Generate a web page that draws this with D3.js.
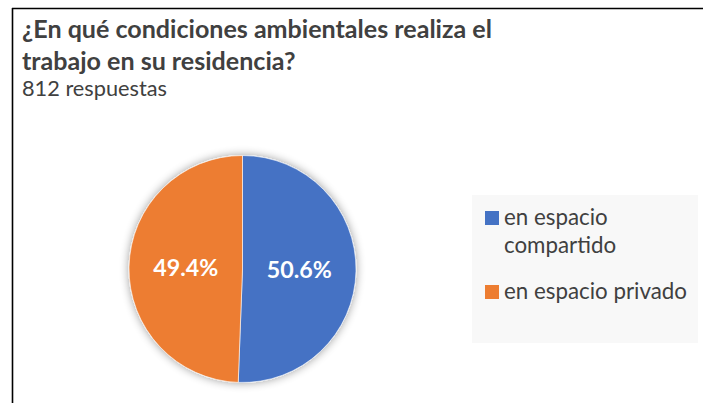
<!DOCTYPE html>
<html>
<head>
<meta charset="utf-8">
<script src="https://cdn.jsdelivr.net/npm/d3@7"></script>
<style>
  html, body { margin: 0; padding: 0; background: #fff; }
  svg { display: block; font-family: Lato, "Open Sans", sans-serif; }
</style>
</head>
<body>
<svg id="chart" width="703" height="403"></svg>
<script>
// chart data
var titleLines = ["¿En qué condiciones ambientales realiza el", "trabajo en su residencia?"];
var subtitle = "812 respuestas";
var categories = ["en espacio compartido", "en espacio privado"];
var values = [50.6, 49.4];
var colors = ["#4472C4", "#ED7D31"];
var legendLines = [["en espacio", "compartido"], ["en espacio privado"]];

var W = 703, H = 403;
var svg = d3.select("#chart");
var textColor = "#404040";

// frame (only left + top edges visible)
svg.append("line").attr("x1", 12.5).attr("y1", 8).attr("x2", 12.5).attr("y2", H)
  .attr("stroke", "#000").attr("stroke-width", 1.6);
svg.append("line").attr("x1", 12).attr("y1", 8.5).attr("x2", W).attr("y2", 8.5)
  .attr("stroke", "#000").attr("stroke-width", 1.6);

// fit a text element to a width by adjusting its font size
function fit(t, width) {
  var fs = parseFloat(t.attr("font-size"));
  var w = t.node().getComputedTextLength();
  t.attr("font-size", (fs * width / w).toFixed(2));
}

// title
var t1 = svg.append("text").attr("x", 22).attr("y", 38).attr("font-size", 22)
  .attr("font-weight", "bold").attr("fill", textColor).text(titleLines[0]);
fit(t1, 470);
svg.append("text").attr("x", 22).attr("y", 70).attr("font-size", t1.attr("font-size"))
  .attr("font-weight", "bold").attr("fill", textColor).text(titleLines[1]);
var st = svg.append("text").attr("x", 22).attr("y", 96).attr("font-size", 18)
  .attr("fill", textColor).text(subtitle);
fit(st, 145);

// pie
var cx = 242.5, cy = 269, r = 113.5;
var defs = svg.append("defs");
var f = defs.append("filter").attr("id", "glow")
  .attr("x", "-20%").attr("y", "-20%").attr("width", "140%").attr("height", "140%");
f.append("feGaussianBlur").attr("in", "SourceAlpha").attr("stdDeviation", 5).attr("result", "b");
f.append("feComponentTransfer").attr("in", "b").attr("result", "s")
  .append("feFuncA").attr("type", "linear").attr("slope", 0.4);
var fm = f.append("feMerge");
fm.append("feMergeNode").attr("in", "s");
fm.append("feMergeNode").attr("in", "SourceGraphic");

var pie = d3.pie().sort(null).value(function(d) { return d; });
var arc = d3.arc().innerRadius(0).outerRadius(r);
var arcs = pie(values);

var g = svg.append("g").attr("transform", "translate(" + cx + "," + cy + ")");
g.append("g").attr("filter", "url(#glow)")
  .selectAll("path").data(arcs).enter().append("path")
  .attr("d", arc)
  .attr("fill", function(d, i) { return colors[i]; })
  .attr("stroke", "#fff").attr("stroke-width", 0.6);

var lbls = g.selectAll("text.lbl").data(arcs).enter().append("text")
  .attr("class", "lbl")
  .attr("transform", function(d) { return "translate(" + arc.centroid(d) + ")"; })
  .attr("text-anchor", "middle").attr("dy", "0.36em")
  .attr("font-size", 22).attr("font-weight", "bold").attr("fill", "#fff")
  .text(function(d) { return d.value.toFixed(1) + "%"; });
fit(lbls.filter(function(d, i) { return i === 0; }), 65);
lbls.attr("font-size", lbls.filter(function(d, i) { return i === 0; }).attr("font-size"));

// legend
svg.append("rect").attr("x", 472).attr("y", 195).attr("width", 226).attr("height", 148)
  .attr("fill", "#f8f8f8");
var lg = svg.selectAll("g.leg").data(categories).enter().append("g").attr("class", "leg")
  .attr("transform", function(d, i) { return "translate(485," + (i === 0 ? 225 : 299) + ")"; });
lg.append("rect").attr("x", 0).attr("y", -14).attr("width", 14).attr("height", 14)
  .attr("fill", function(d, i) { return colors[i]; });
lg.each(function(d, i) {
  var gg = d3.select(this);
  legendLines[i].forEach(function(line, j) {
    gg.append("text").attr("x", 19).attr("y", j * 28).attr("font-size", 19)
      .attr("fill", textColor).text(line);
  });
});
var priv = lg.filter(function(d, i) { return i === 1; }).select("text");
fit(priv, 183);
lg.selectAll("text").attr("font-size", priv.attr("font-size"));
</script>
</body>
</html>
